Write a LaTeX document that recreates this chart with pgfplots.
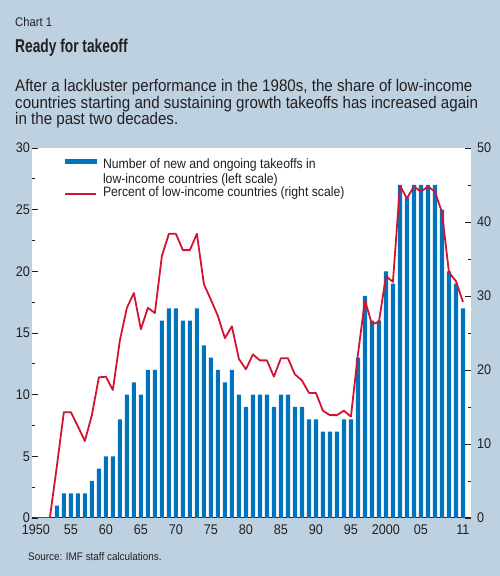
\documentclass[border=0pt]{standalone}
\usepackage{fontspec}
\setmainfont{Liberation Sans}[FakeStretch=0.9]
\newfontfamily\titlefont{Liberation Sans}[FakeStretch=0.74]
\usepackage{pgfplots}
\usepackage{pgfplotstable}
\pgfplotsset{compat=1.18}

\definecolor{bgblue}{RGB}{189,209,225}
\definecolor{barblue}{RGB}{0,115,190}
\definecolor{linered}{RGB}{210,20,50}
\definecolor{ink}{RGB}{35,31,32}

% Number of new and ongoing takeoffs (left scale)
\pgfplotstableread{
year count
1953 1
1954 2
1955 2
1956 2
1957 2
1958 3
1959 4
1960 5
1961 5
1962 8
1963 10
1964 11
1965 10
1966 12
1967 12
1968 16
1969 17
1970 17
1971 16
1972 16
1973 17
1974 14
1975 13
1976 12
1977 11
1978 12
1979 10
1980 9
1981 10
1982 10
1983 10
1984 9
1985 10
1986 10
1987 9
1988 9
1989 8
1990 8
1991 7
1992 7
1993 7
1994 8
1995 8
1996 13
1997 18
1998 16
1999 16
2000 20
2001 19
2002 27
2003 26
2004 27
2005 27
2006 27
2007 27
2008 25
2009 20
2010 19
2011 17
}\takeoffs

% Percent of low-income countries (right scale)
\pgfplotstableread{
year pct
1950 0
1951 0
1952 0
1953 7
1954 14.3
1955 14.3
1956 12.4
1957 10.4
1958 13.9
1959 19.0
1960 19.1
1961 17.3
1962 24.0
1963 28.4
1964 30.4
1965 25.5
1966 28.4
1967 27.7
1968 35.4
1969 38.4
1970 38.4
1971 36.2
1972 36.2
1973 38.4
1974 31.6
1975 29.5
1976 27.3
1977 24.3
1978 25.9
1979 21.5
1980 20.1
1981 22.1
1982 21.3
1983 21.3
1984 19.1
1985 21.6
1986 21.6
1987 19.4
1988 18.6
1989 16.9
1990 16.9
1991 14.5
1992 13.9
1993 13.9
1994 14.5
1995 13.7
1996 22.1
1997 29.4
1998 26.2
1999 26.5
2000 32.7
2001 31.9
2002 44.9
2003 43.2
2004 44.8
2005 44.1
2006 44.8
2007 44.1
2008 41.3
2009 33.2
2010 32.0
2011 29.2
}\share

\pgfplotsset{
  takeoffaxis/.style={
    at={(32pt,58pt)}, anchor=south west,
    scale only axis, width=439pt, height=370pt,
    xmin=1949.45, xmax=2012.15,
    tick align=inside,
    major tick length=6pt, minor tick length=3pt,
    y tick style={ink, line width=0.8pt},
    y axis line style={draw=none},
    ticklabel style={font=\fontsize{14}{14}\selectfont, text=ink},
    /pgf/number format/assume math mode=true,
  },
}

\begin{document}
\begin{tikzpicture}
\fill[bgblue] (0pt,0pt) rectangle (500pt,576pt);
\useasboundingbox (0pt,0pt) rectangle (500pt,576pt);

\node[anchor=base west, inner sep=0, text=ink, font=\fontsize{12.5}{14}\selectfont]
  at (15pt,549pt) {Chart 1};
\node[anchor=base west, inner sep=0, text=ink, font=\titlefont\bfseries\fontsize{18.6}{20}\selectfont]
  at (15pt,523pt) {Ready for takeoff};
\begin{scope}[every node/.style={anchor=base west, inner sep=0, text=ink, font=\fontsize{16.8}{17}\selectfont}]
  \node at (15pt,484pt) {After a lackluster performance in the 1980s, the share of low-income};
  \node at (15pt,467.5pt) {countries starting and sustaining growth takeoffs has increased again};
  \node at (15pt,451pt) {in the past two decades.};
\end{scope}
\node[anchor=base west, inner sep=0, text=ink, font=\fontsize{11}{12}\selectfont]
  at (28pt,16pt) {Source: IMF staff calculations.};

% bars, left scale
\begin{axis}[takeoffaxis,
  ymin=0, ymax=30,
  axis background/.style={fill=white},
  axis x line*=bottom, axis y line*=left,
  x axis line style={draw=ink, line width=1pt, -},
  xtick={1950,1955,1960,1965,1970,1975,1980,1985,1990,1995,2000,2005,2011},
  xticklabels={1950,55,60,65,70,75,80,85,90,95,2000,05,11},
  x tick style={draw=none},
  xticklabel style={yshift=-3pt},
  ytick={0,5,...,30}, minor ytick={2.5,7.5,...,27.5},
  yticklabel style={xshift=1.5pt},
]
\addplot[ybar, bar width=4.2pt, fill=barblue, draw=none] table[x=year,y=count]{\takeoffs};
\end{axis}

% line, right scale
\begin{axis}[takeoffaxis,
  ymin=0, ymax=50,
  axis x line=none, axis y line*=right,
  ytick={0,10,...,50}, minor ytick={5,15,...,45},
  yticklabel style={xshift=2.5pt},
  legend style={at={(0.0729,0.973)}, anchor=north west, draw=none, fill=none,
    inner sep=0pt, column sep=6pt, row sep=2pt,
    font=\fontsize{13.6}{15}\selectfont, text=ink,
    nodes={inner sep=0pt},
    cells={anchor=west, align=left}},
  legend cell align=left,
]
\addlegendimage{legend image code/.code={\fill[barblue] (0pt,8pt) rectangle (31pt,12.3pt);}}
\addlegendentry{Number of new and ongoing takeoffs in\\low-income countries (left scale)}
\addplot[linered, line width=1.8pt, line join=round,
  legend image code/.code={\draw[linered, line width=1.8pt] (0pt,-2pt) -- (31pt,-2pt);}]
  table[x=year,y=pct]{\share};
\addlegendentry{Percent of low-income countries (right scale)}
\end{axis}
\end{tikzpicture}
\end{document}
